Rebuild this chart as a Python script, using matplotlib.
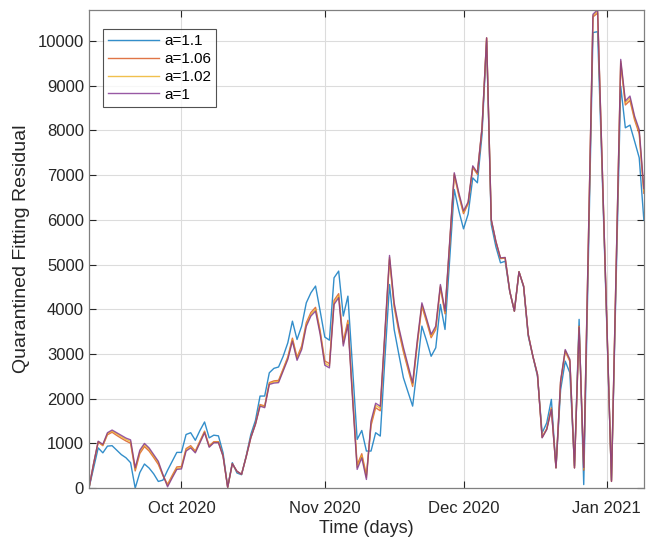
import numpy as np
import pandas as pd
import matplotlib
matplotlib.use("Agg")
import matplotlib.pyplot as plt
import matplotlib.dates as mdates

plt.rcParams['font.family'] = ['Liberation Sans', 'DejaVu Sans']

start_date = "2020-09-11"
n_days = 121

a_1 = [0, 550, 1050, 980, 1240, 1300, 1240, 1180, 1120, 1080,
       455, 850, 1000, 900, 750, 600, 300, 30, 230, 420,
       430, 830, 900, 790, 1015, 1240, 915, 1015, 1015, 715,
       20, 545, 380, 310, 700, 1125, 1425, 1835, 1800, 2320,
       2350, 2360, 2620, 2880, 3290, 2860, 3100, 3620, 3850, 3960,
       3440, 2750, 2690, 4110, 4260, 3180, 3660, 2000, 420, 680,
       195, 1500, 1900, 1830, 3500, 5205, 4145, 3600, 3150, 2750,
       2355, 3300, 4145, 3800, 3440, 3625, 4555, 3960, 5500, 7055,
       6600, 6200, 6400, 7210, 7055, 8060, 10075, 6010, 5525, 5150,
       5160, 4405, 3960, 4840, 4520, 3440, 2950, 2545, 1125, 1310,
       1760, 455, 2400, 3100, 2880, 450, 3600, 455, 5500, 10600,
       10700, 7200, 3700, 150, 4900, 9590, 8660, 8770, 8320, 8020,
       6700]

a_1_1 = [0, 450, 900, 790, 940, 950, 850, 750, 680, 570,
         0, 350, 540, 450, 320, 150, 180, 400, 600, 800,
         800, 1200, 1240, 1070, 1290, 1480, 1125, 1185, 1170, 790,
         20, 570, 340, 300, 720, 1200, 1515, 2060, 2060, 2580,
         2680, 2710, 2950, 3250, 3735, 3325, 3625, 4145, 4370, 4520,
         3960, 3380, 3310, 4705, 4855, 3850, 4295, 2700, 1090, 1290,
         830, 830, 1240, 1165, 2900, 4555, 3550, 3000, 2470, 2150,
         1835, 2700, 3625, 3300, 2950, 3140, 4110, 3550, 5100, 6680,
         6200, 5800, 6130, 6940, 6830, 7900, 10000, 5900, 5400, 5040,
         5075, 4400, 3960, 4840, 4500, 3400, 2950, 2500, 1235, 1460,
         1985, 455, 2200, 2840, 2580, 500, 3775, 80, 5100, 10190,
         10210, 7000, 3600, 180, 4600, 8990, 8060, 8120, 7760, 7390,
         6000]

a_1_06 = [0, 540, 1030, 950, 1195, 1250, 1180, 1115, 1055, 1005,
          385, 775, 930, 830, 685, 530, 280, 85, 285, 475,
          485, 885, 950, 830, 1055, 1275, 945, 1040, 1040, 725,
          20, 550, 375, 310, 705, 1135, 1440, 1870, 1840, 2360,
          2400, 2410, 2670, 2935, 3355, 2930, 3180, 3700, 3930, 4045,
          3520, 2845, 2785, 4200, 4350, 3280, 3755, 2105, 520, 770,
          290, 1400, 1800, 1730, 3410, 5110, 4055, 3510, 3050, 2660,
          2275, 3210, 4065, 3725, 3365, 3550, 4490, 3900, 5440, 7000,
          6540, 6140, 6360, 7170, 7020, 8035, 10065, 5995, 5505, 5135,
          5145, 4405, 3960, 4840, 4515, 3435, 2950, 2540, 1140, 1330,
          1795, 455, 2370, 3060, 2835, 455, 3625, 400, 5440, 10540,
          10625, 7170, 3685, 155, 4855, 9500, 8570, 8670, 8235, 7925,
          6595]

a_1_02 = [0, 545, 1040, 965, 1220, 1275, 1215, 1150, 1090, 1045,
          425, 815, 970, 870, 720, 570, 290, 55, 255, 445,
          455, 855, 925, 810, 1035, 1255, 930, 1025, 1025, 720,
          20, 545, 375, 310, 700, 1130, 1430, 1850, 1820, 2340,
          2375, 2385, 2645, 2905, 3320, 2895, 3135, 3655, 3885, 4000,
          3475, 2795, 2735, 4150, 4300, 3225, 3705, 2050, 465, 725,
          240, 1455, 1855, 1785, 3460, 5160, 4105, 3560, 3100, 2710,
          2320, 3260, 4110, 3765, 3405, 3590, 4525, 3930, 5470, 7030,
          6570, 6170, 6380, 7190, 7040, 8050, 10070, 6000, 5515, 5140,
          5155, 4405, 3960, 4840, 4520, 3435, 2950, 2540, 1135, 1320,
          1775, 455, 2385, 3080, 2860, 455, 3610, 430, 5470, 10570,
          10665, 7185, 3695, 150, 4880, 9550, 8620, 8725, 8280, 7975,
          6650]

series_labels = ["a=1.1", "a=1.06", "a=1.02", "a=1"]
series_colors = ["#0072BD", "#D95319", "#EDB120", "#7E2F8E"]
x_tick_dates = ["2020-10-01", "2020-11-01", "2020-12-01", "2021-01-01"]
x_tick_labels = ["Oct 2020", "Nov 2020", "Dec 2020", "Jan 2021"]
y_ticks = list(range(0, 10001, 1000))

dates = pd.date_range(start_date, periods=n_days, freq="D")

fig = plt.figure(figsize=(6.59, 5.43), dpi=100)
ax = fig.add_axes([0.135, 0.101, 0.842, 0.881])

for vals, lab, col in zip([a_1_1, a_1_06, a_1_02, a_1], series_labels, series_colors):
    ax.plot(dates, vals, color=col, lw=1.0, label=lab, alpha=0.8)

ax.set_xlim(dates[0], dates[-1])
ax.set_ylim(0, max(max(a_1), max(a_1_06)))
ax.set_yticks(y_ticks)
ax.set_xticks(pd.to_datetime(x_tick_dates))
ax.set_xticklabels(x_tick_labels)

ax.grid(True, color="#dcdcdc", lw=0.8)
ax.set_axisbelow(True)
ax.tick_params(direction="in", top=True, right=True, length=5, width=0.8,
               colors="#262626", labelsize=12)
ax.tick_params(axis="x", pad=9)
for s in ax.spines.values():
    s.set_color("#808080")
    s.set_linewidth(0.9)

ax.set_xlabel("Time (days)", fontsize=13, color="#262626", labelpad=3)
ax.set_ylabel("Quarantined Fitting Residual", fontsize=14, color="#262626", labelpad=6)

leg = ax.legend(loc="upper left", bbox_to_anchor=(0.025, 0.96), fontsize=11,
                frameon=True, fancybox=False, edgecolor="#262626",
                handlelength=3.3, borderpad=0.35, labelspacing=0.25,
                handletextpad=0.35, borderaxespad=0)
leg.get_frame().set_linewidth(0.8)

fig.savefig("out.png", dpi=100)
